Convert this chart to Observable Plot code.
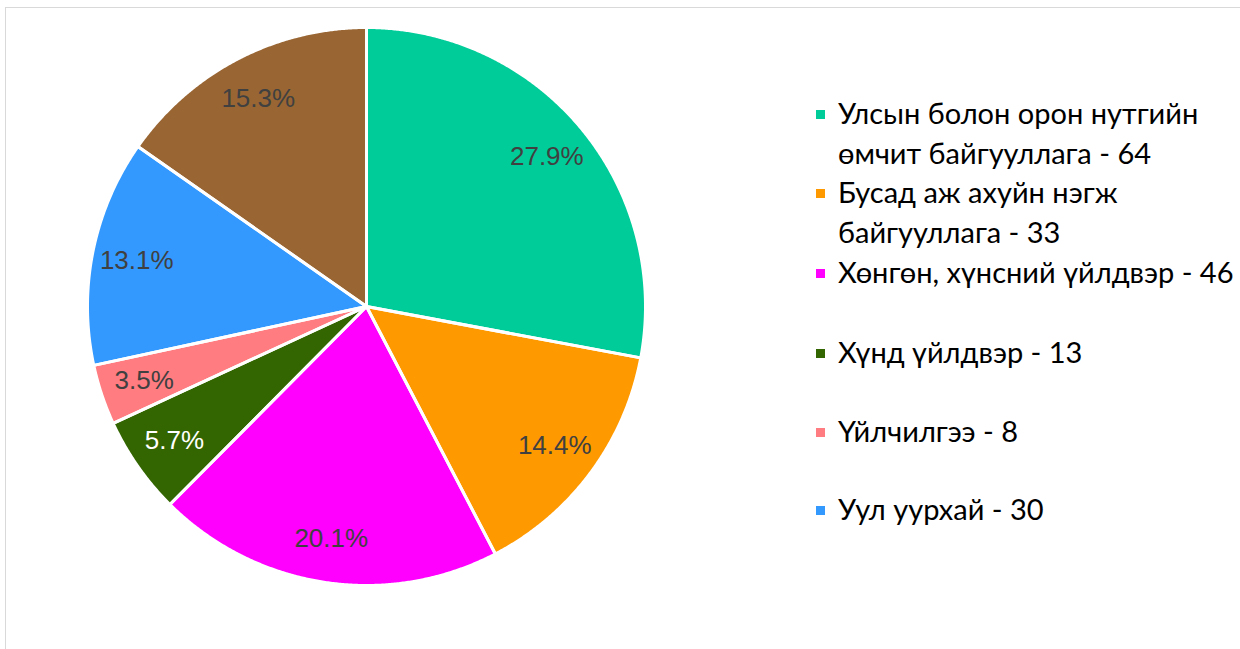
<!DOCTYPE html>
<html>
<head>
<meta charset="utf-8">
<script src="https://cdn.jsdelivr.net/npm/d3@7"></script>
<script src="https://cdn.jsdelivr.net/npm/@observablehq/plot@0.6"></script>
<style>
  html, body { margin: 0; padding: 0; background: #fff; }
  #wrap { position: relative; width: 1240px; height: 649px; overflow: hidden; background: #fff; }
  #frame { position: absolute; left: 5px; top: 7px; width: 1240px; height: 650px; border-left: 1.5px solid #d9d9d9; border-top: 1.5px solid #d9d9d9; box-sizing: border-box; pointer-events: none; }
  #chart { position: absolute; left: 0; top: 0; }
  #legend { position: absolute; left: 0; top: 0; width: 1240px; height: 649px; font-family: Lato, "Noto Sans", sans-serif; font-size: 29px; color: #000; }
  .item { position: absolute; left: 816px; }
  .sw { position: absolute; left: 0; width: 9px; height: 9px; }
  .lab { position: absolute; left: 22px; line-height: 40px; white-space: nowrap; }
</style>
</head>
<body>
<div id="wrap">
  <div id="chart"></div>
  <div id="legend"></div>
  <div id="frame"></div>
</div>
<script>
// ---- data ----
const categories = [
  "Улсын болон орон нутгийн өмчит байгууллага",
  "Бусад аж ахуйн нэгж байгууллага",
  "Хөнгөн, хүнсний үйлдвэр",
  "Хүнд үйлдвэр",
  "Үйлчилгээ",
  "Уул уурхай",
  "Бусад"
];
const values = [64, 33, 46, 13, 8, 30, 35];
const colors = ["#00CC99", "#FF9900", "#FF00FF", "#336600", "#FF7C80", "#3399FF", "#996633"];
const legendLines = [
  ["Улсын болон орон нутгийн", "өмчит байгууллага - 64"],
  ["Бусад аж ахуйн нэгж", "байгууллага - 33"],
  ["Хөнгөн, хүнсний үйлдвэр - 46"],
  ["Хүнд үйлдвэр - 13"],
  ["Үйлчилгээ - 8"],
  ["Уул уурхай - 30"]
];

// ---- geometry from data ----
const rows = categories.map((c, i) => ({category: c, value: values[i]}));
const total = d3.sum(values);
const arcs = d3.pie().sort(null).value(d => d.value)(rows);
const wedgePts = [];
const labels = [];
for (const a of arcs) {
  const cat = a.data.category;
  wedgePts.push({category: cat, x: 0, y: 0});
  const n = Math.max(2, Math.ceil((a.endAngle - a.startAngle) / 0.005));
  for (let i = 0; i <= n; i++) {
    const t = a.startAngle + (a.endAngle - a.startAngle) * i / n;
    wedgePts.push({category: cat, x: Math.sin(t), y: Math.cos(t)});
  }
  const m = (a.startAngle + a.endAngle) / 2;
  const r = 0.84;
  labels.push({
    category: cat,
    x: r * Math.sin(m),
    y: r * Math.cos(m),
    text: d3.format(".1%")(a.data.value / total),
    light: cat === "Хүнд үйлдвэр"
  });
}

const chart = Plot.plot({
  width: 1240,
  height: 649,
  margin: 0,
  x: {domain: [-1, 1], range: [87, 645], axis: null},
  y: {domain: [-1, 1], range: [585, 27], axis: null},
  color: {domain: categories, range: colors},
  style: {background: "transparent", overflow: "visible"},
  marks: [
    Plot.line(wedgePts, {
      x: "x", y: "y", z: "category", fill: "category",
      stroke: "none", curve: "linear-closed"
    }),
    Plot.line(wedgePts, {
      x: "x", y: "y", z: "category", fill: "none",
      stroke: "white", strokeWidth: 3, strokeLinejoin: "round",
      curve: "linear-closed"
    }),
    Plot.text(labels.filter(d => !d.light), {
      x: "x", y: "y", text: "text", fill: "#404040",
      fontSize: 26, fontFamily: "'Liberation Sans', Arial, sans-serif"
    }),
    Plot.text(labels.filter(d => d.light), {
      x: "x", y: "y", text: "text", fill: "#ffffff",
      fontSize: 26, fontFamily: "'Liberation Sans', Arial, sans-serif"
    })
  ]
});
document.getElementById("chart").appendChild(chart);

// ---- legend ----
const firstLineCenters = [113, 192, 272, 352, 431, 509];
const legend = document.getElementById("legend");
legendLines.forEach((lines, i) => {
  const item = document.createElement("div");
  item.className = "item";
  item.style.top = (firstLineCenters[i] - 20) + "px";
  const sw = document.createElement("div");
  sw.className = "sw";
  sw.style.background = colors[i];
  sw.style.top = "17px";
  item.appendChild(sw);
  lines.forEach((ln, j) => {
    const t = document.createElement("div");
    t.className = "lab";
    t.style.top = (j * 40) + "px";
    t.textContent = ln;
    item.appendChild(t);
  });
  legend.appendChild(item);
});
</script>
</body>
</html>
